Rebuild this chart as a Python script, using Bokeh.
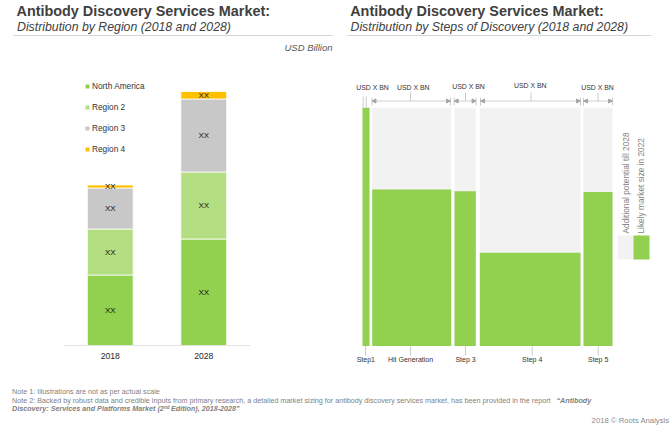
from bokeh.plotting import figure
from bokeh.layouts import column, row
from bokeh.core.properties import value
from bokeh.models import Range1d, FactorRange, Legend, LegendItem, Arrow, NormalHead, ColumnDataSource
from bokeh.embed import file_html
from bokeh.resources import INLINE
import math

FONT = "Liberation Sans"
# ---- data (arbitrary units, labels are masked as XX)
years = ["2018", "2028"]
regions = ["North America", "Region 2", "Region 3", "Region 4"]
north_america = [70.5, 106.5]
region_2 = [46, 67]
region_3 = [41, 73]
region_4 = [3, 7.5]
region_colors = ["#92D050", "#B3DE81", "#C8C8C8", "#FFC000"]
value_label = "XX"

steps = ["Step1", "Hit Generation", "Step 3", "Step 4", "Step 5"]
step_start = [22, 31.7, 114, 139.3, 243]
step_end = [29, 110.7, 135.3, 240, 272]
likely_share = [100, 65.7, 65, 39.2, 64.7]
full_share = [100, 100, 100, 100, 100]
step_value_label = "USD X BN"

title_main = "Antibody Discovery Services Market:"
title_left = "Distribution by Region (2018 and 2028)"
title_right = "Distribution by Steps of Discovery (2018 and 2028)"
unit_label = "USD Billion"
note_1 = "Note 1: Illustrations are not as per actual scale"
note_2 = ("Note 2: Backed by robust data and credible inputs from primary research, a detailed market sizing "
          "for antibody discovery services market, has been provided in the report ")
note_2b = "\u201cAntibody"
note_3 = "Discovery: Services and Platforms Market (2"
note_3s = "nd"
note_3e = " Edition), 2018-2028\u201d"
credit = "2018 \u00a9 Roots Analysis"
legend_potential = "Additional potential till 2028"
legend_likely = "Likely market size in 2022"


def bare(w, h, xr, yr):
    f = figure(width=w, height=h, x_range=xr, y_range=yr, x_axis_type=None, y_axis_type=None,
               output_backend="svg", toolbar_location=None, min_border=0, outline_line_color=None)
    f.grid.visible = False
    return f


def txt(f, x, y, s, size, color="#404040", style="normal", align="left", base="middle", angle=0):
    f.text([x], [y], text=[s], text_font=value(FONT), text_font_size=f"{size}px", text_color=color,
           text_font_style=style, text_align=align, text_baseline=base, angle=angle)


# ---- header
head = bare(672, 55, Range1d(0, 672), Range1d(55, 0))
txt(head, 16, 10.5, title_main, 14.4, "#404040", "bold")
txt(head, 16.5, 26, title_left, 12.3, "#404040", "italic")
txt(head, 349.7, 10.5, title_main, 14.4, "#404040", "bold")
txt(head, 350, 26, title_right, 12.3, "#404040", "italic")
head.segment([13, 347], [35, 35], [332, 651], [35, 35], line_color="#D4D4D4", line_width=1)
txt(head, 332, 47, unit_label, 9.5, "#595959", "italic", "right")

# ---- left chart: the frame runs to the bottom of the row, the axis sits at zero
left = figure(width=340, height=325, x_range=FactorRange(*years, factor_padding=0, range_padding=0),
              y_range=Range1d(-35, 290), output_backend="svg", toolbar_location=None,
              min_border_left=63, min_border_right=90, min_border_top=0, min_border_bottom=0,
              outline_line_color=None)
left.grid.visible = False
left.yaxis.visible = False
left.xaxis.fixed_location = 0
left.xaxis.axis_line_color = "#E4E4E4"
left.xaxis.major_tick_line_color = None
left.xaxis.minor_tick_line_color = None
left.xaxis.major_label_text_font = FONT
left.xaxis.major_label_text_font_size = "8.6px"
left.xaxis.major_label_text_color = "#262626"
left.xaxis.major_label_standoff = 1

src = ColumnDataSource(dict(year=years, **{"North America": north_america, "Region 2": region_2,
                                           "Region 3": region_3, "Region 4": region_4}))
left.vbar_stack(regions, x="year", width=0.49, color=region_colors, line_color="white",
                line_width=0.8, source=src)
series = [north_america, region_2, region_3, region_4]
for i, y in enumerate(years):
    base = 0
    for s in series:
        left.text([y], [base + s[i] / 2], text=[value_label], text_font=value(FONT), text_font_size="8px",
                  text_color="#111111", text_align="center", text_baseline="middle")
        base += s[i]
keys = [left.scatter([years[0]], [float("nan")], marker="square", size=4, color=c, line_color=None)
        for c in region_colors]
leg = Legend(items=[LegendItem(label=r, renderers=[g]) for r, g in zip(regions, keys)],
             location=(19, 225), orientation="vertical", glyph_width=10, glyph_height=10, label_width=50,
             label_height=12, label_standoff=0, spacing=9, padding=0, margin=0,
             background_fill_alpha=0, border_line_color=None, label_text_font=FONT,
             label_text_font_size="8.3px", label_text_color="#333333")
left.add_layout(leg)

# ---- right chart: x is in pixels-like width units, y is the share of the potential
PX = 238.2 / 100


def yp(px):
    return (345.5 - px) / PX


right = bare(332, 325, Range1d(0, 332), Range1d(yp(380), yp(55)))
right.quad(left=step_start, right=step_end, bottom=0, top=full_share, fill_color="#F2F2F2", line_color=None)
right.quad(left=step_start, right=step_end, bottom=0, top=likely_share, fill_color="#92D050", line_color=None)

LINE = "#A6A6A6"
label_centres = [25, 70, 125, 191.7, 257.7]
top_label_x = [32, 72.7, 128, 189.7, 257]
top_label_y = [87, 87, 86, 85, 87]
lead_x = [None, 70, 125, 190.5, 257.5]
br_l = [31.5, 113.7, 140, 243]
br_r = [110, 135.5, 240, 272]
for x, y in zip(top_label_x, top_label_y):
    txt(right, x, yp(y), step_value_label, 6.9, "#333333", align="center")
for s, x in zip(steps, [25.3, 70, 125, 191.7, 257.7]):
    txt(right, x, yp(358.5), s, 7.0, "#333333", align="center")
for x in label_centres:
    right.segment([x], [yp(345.5)], [x], [yp(355)], line_color="#BFBFBF", line_width=0.8)
for x in [22.7, 25.7]:
    right.segment([x], [yp(96)], [x], [yp(107)], line_color="#BFBFBF", line_width=0.8)
for a, b, lx in zip(br_l, br_r, lead_x[1:]):
    right.segment([a, b], [yp(97)] * 2, [a, b], [yp(105)] * 2, line_color="#BFBFBF", line_width=0.8)
    right.segment([lx], [yp(92)], [lx], [yp(100.5)], line_color="#BFBFBF", line_width=0.8)
    right.add_layout(Arrow(x_start=a, y_start=yp(100.5), x_end=b, y_end=yp(100.5),
                           line_color="#C4C4C4", line_width=0.8,
                           start=NormalHead(size=4, fill_color=LINE, line_color=LINE),
                           end=NormalHead(size=4, fill_color=LINE, line_color=LINE)))
txt(right, 285.5, yp(233), legend_potential, 8.3, "#7F7F7F", angle=math.pi / 2)
txt(right, 300.5, yp(233), legend_likely, 8.3, "#7F7F7F", angle=math.pi / 2)
right.quad(left=[277], right=[293], bottom=[yp(259)], top=[yp(235)], fill_color="#F2F2F2", line_color=None)
right.quad(left=[293], right=[309], bottom=[yp(259)], top=[yp(235)], fill_color="#92D050", line_color=None)

# ---- notes
foot = bare(672, 45, Range1d(0, 672), Range1d(425, 380))
GREY = "#7F7F7F"
txt(foot, 11.5, 391.3, note_1, 7.2, GREY)
txt(foot, 11.5, 399.7, note_2, 7.2, GREY)
txt(foot, 556, 399.7, note_2b, 7.2, GREY, "bold italic")
txt(foot, 11.5, 408.3, note_3, 7.2, GREY, "bold italic")
txt(foot, 163.5, 406.8, note_3s, 4.5, GREY, "bold italic")
txt(foot, 170.5, 408.3, note_3e, 7.2, GREY, "bold italic")
txt(foot, 669, 419.5, credit, 7.7, "#8C8C8C", align="right")

page = column(head, row(left, right, spacing=0), foot, spacing=0)
open("out.html", "w").write(file_html(page, INLINE))
